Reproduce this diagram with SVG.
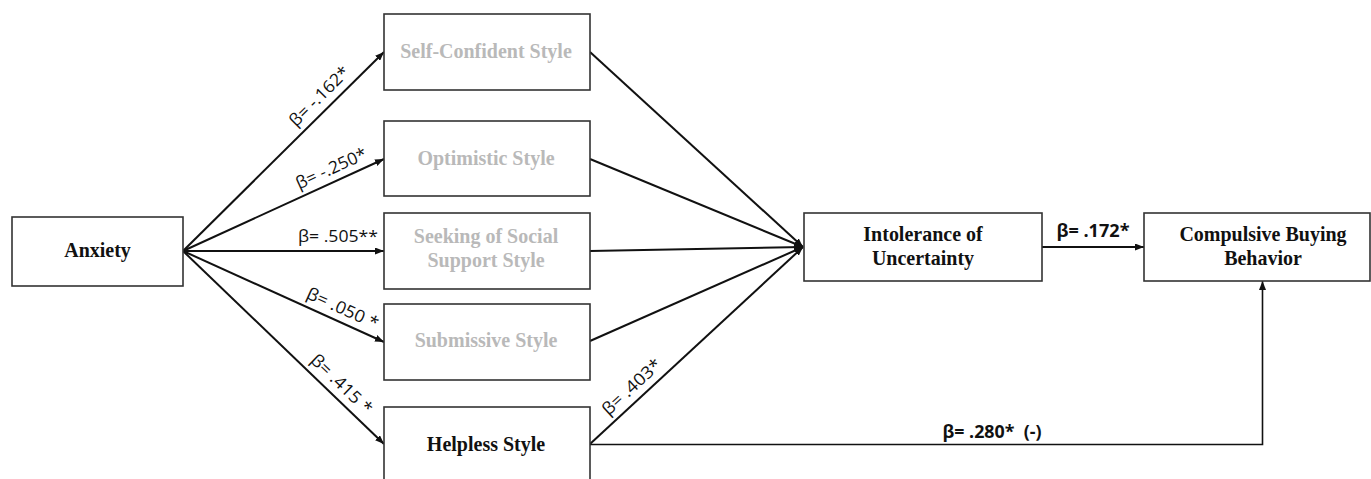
<svg xmlns="http://www.w3.org/2000/svg" width="1371" height="479" viewBox="0 0 1371 479">
<style>
.box{fill:#fff;stroke:#333;stroke-width:1.6}
.t{font-family:"Liberation Serif","Times New Roman",serif;font-weight:bold;font-size:22px;text-anchor:middle;fill:#111}
.g{fill:#b9b9b9}
.ln{fill:none;stroke:#111;stroke-width:2}
.lbl{font-family:"Open Sans","Noto Sans",sans-serif;font-size:17px;fill:#111;text-anchor:middle}
.b{font-weight:bold}
</style>
<defs>
<marker id="ah" markerUnits="userSpaceOnUse" markerWidth="9" markerHeight="7" refX="9" refY="3.5" orient="auto">
<path d="M0,0 L9,3.5 L0,7 z" fill="#111"/>
</marker>
</defs>
<g id="connectors">
<line class="ln" x1="183" y1="251" x2="384" y2="52" marker-end="url(#ah)"/>
<line class="ln" x1="183" y1="251" x2="384" y2="159" marker-end="url(#ah)"/>
<line class="ln" x1="183" y1="251" x2="384" y2="251" marker-end="url(#ah)"/>
<line class="ln" x1="183" y1="251" x2="384" y2="342" marker-end="url(#ah)"/>
<line class="ln" x1="183" y1="251" x2="384" y2="444" marker-end="url(#ah)"/>
<line class="ln" x1="590" y1="52" x2="803" y2="247" marker-end="url(#ah)"/>
<line class="ln" x1="590" y1="159" x2="803" y2="247" marker-end="url(#ah)"/>
<line class="ln" x1="590" y1="251" x2="803" y2="247" marker-end="url(#ah)"/>
<line class="ln" x1="590" y1="341" x2="803" y2="247" marker-end="url(#ah)"/>
<line class="ln" x1="590" y1="444" x2="803" y2="247" marker-end="url(#ah)"/>
<line class="ln" x1="1042" y1="247" x2="1144" y2="247" marker-end="url(#ah)"/>
<polyline class="ln" points="590,444.5 1262.5,444.5 1262.5,281" marker-end="url(#ah)" style="stroke-width:1.6"/>
<text class="lbl" transform="translate(329,106) rotate(-44.7)" y="-8" textLength="77" lengthAdjust="spacingAndGlyphs">β= -.162*</text>
<text class="lbl" transform="translate(337,181) rotate(-24.6)" y="-8" textLength="76" lengthAdjust="spacingAndGlyphs">β= -.250*</text>
<text class="lbl" x="338" y="242" textLength="80" lengthAdjust="spacingAndGlyphs">β= .505**</text>
<text class="lbl" transform="translate(337,321) rotate(24.4)" y="-8" textLength="77" lengthAdjust="spacingAndGlyphs">β= .050 *</text>
<text class="lbl" transform="translate(332,394) rotate(43.8)" y="-8" textLength="78" lengthAdjust="spacingAndGlyphs">β= .415 *</text>
<text class="lbl" transform="translate(641,397) rotate(-42.8)" y="-8" textLength="74" lengthAdjust="spacingAndGlyphs">β= .403*</text>
<text class="lbl b" x="1093" y="237" textLength="73" lengthAdjust="spacingAndGlyphs">β= .172*</text>
<text class="lbl b" x="992" y="438" textLength="99" lengthAdjust="spacingAndGlyphs" xml:space="preserve">β= .280*  (-)</text>
</g>
<g id="anxiety">
<rect class="box" x="12" y="217" width="171" height="69"/>
<text class="t" transform="translate(97.5,257) scale(0.909,1)">Anxiety</text>
</g>
<g id="self-confident">
<rect class="box" x="384" y="14" width="206" height="76"/>
<text class="t g" transform="translate(486,57.5) scale(0.909,1)">Self-Confident Style</text>
</g>
<g id="optimistic">
<rect class="box" x="384" y="121" width="206" height="75"/>
<text class="t g" transform="translate(486,164.5) scale(0.909,1)">Optimistic Style</text>
</g>
<g id="seeking">
<rect class="box" x="384" y="213" width="206" height="76"/>
<text class="t g" transform="translate(486,243) scale(0.909,1)">Seeking of Social</text>
<text class="t g" transform="translate(486,267) scale(0.909,1)">Support Style</text>
</g>
<g id="submissive">
<rect class="box" x="384" y="304" width="206" height="76"/>
<text class="t g" transform="translate(486,347) scale(0.909,1)">Submissive Style</text>
</g>
<g id="helpless">
<rect class="box" x="384" y="407" width="206" height="80"/>
<text class="t" transform="translate(486,451) scale(0.909,1)">Helpless Style</text>
</g>
<g id="intolerance">
<rect class="box" x="804" y="213" width="238" height="68"/>
<text class="t" transform="translate(923,241) scale(0.909,1)">Intolerance of</text>
<text class="t" transform="translate(923,264.5) scale(0.909,1)">Uncertainty</text>
</g>
<g id="compulsive">
<rect class="box" x="1144" y="213" width="226" height="68"/>
<text class="t" transform="translate(1263,241) scale(0.909,1)">Compulsive Buying</text>
<text class="t" transform="translate(1263,264.5) scale(0.909,1)">Behavior</text>
</g>
</svg>
